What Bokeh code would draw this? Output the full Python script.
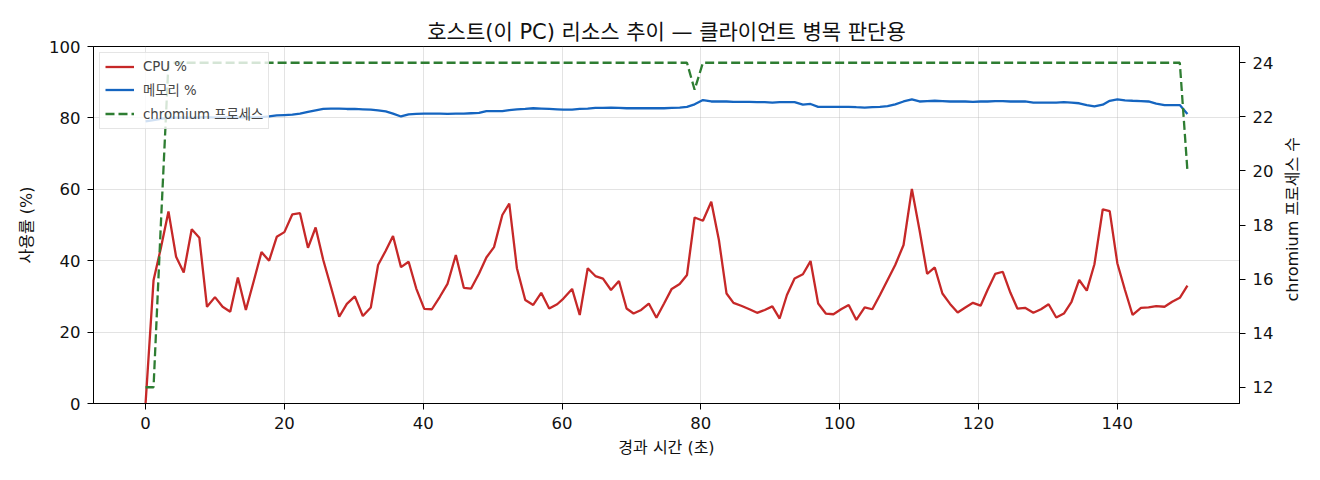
import math

from bokeh.plotting import figure
from bokeh.layouts import row
from bokeh.models import Range1d, LinearAxis, SingleIntervalTicker, Label
from bokeh.embed import file_html
from bokeh.resources import INLINE

FONT = "DejaVu Sans, Noto Sans CJK KR"
NUM_FONT = "DejaVu Sans"

# sample times (s)
times = [
    0.0, 1.15, 2.2, 3.3, 4.4, 5.5, 6.65, 7.75, 8.85, 10.0,
    11.1, 12.2, 13.3, 14.45, 15.6, 16.7, 17.8, 18.9, 20.0, 21.15,
    22.25, 23.4, 24.5, 25.6, 26.7, 27.9, 29.0, 30.15, 31.3, 32.45,
    33.5, 34.6, 35.65, 36.8, 37.9, 39.0, 40.15, 41.25, 42.4, 43.5,
    44.7, 45.85, 46.9, 48.05, 49.1, 50.2, 51.4, 52.4, 53.5, 54.7,
    55.85, 57.0, 58.15, 59.3, 60.2, 61.45, 62.55, 63.7, 64.8, 65.9,
    67.05, 68.2, 69.3, 70.3, 71.4, 72.5, 73.6, 74.7, 75.8, 76.95,
    78.0, 79.1, 80.3, 81.5, 82.6, 83.7, 84.7, 85.9, 87.0, 88.1,
    89.2, 90.3, 91.35, 92.4, 93.5, 94.7, 95.8, 96.9, 98.0, 99.1,
    100.2, 101.3, 102.4, 103.6, 104.7, 105.8, 106.9, 108.0, 109.2, 110.4,
    111.5, 112.6, 113.7, 114.8, 115.9, 117.0, 118.1, 119.2, 120.3, 121.3,
    122.4, 123.5, 124.6, 125.6, 126.7, 127.9, 129.0, 130.1, 131.2, 132.3,
    133.4, 134.5, 135.6, 136.7, 137.9, 138.9, 140.0, 141.1, 142.2, 143.4,
    144.5, 145.6, 146.8, 147.9, 149.0, 150.1,
]

cpu = [
    0.0, 34.5, 43.5, 53.8, 41.1, 36.7, 48.8, 46.4, 27.1, 29.8,
    27.1, 25.7, 35.3, 26.2, 34.4, 42.4, 40.0, 46.7, 48.0, 53.0,
    53.3, 43.6, 49.3, 40.2, 32.7, 24.3, 27.9, 30.0, 24.5, 26.9,
    38.8, 42.8, 46.9, 38.2, 39.7, 32.2, 26.5, 26.4, 29.9, 33.5,
    41.6, 32.4, 32.2, 36.4, 40.9, 43.8, 52.8, 56.0, 37.9, 29.0,
    27.6, 31.0, 26.6, 27.8, 29.4, 32.1, 24.8, 37.9, 35.7, 35.0,
    31.8, 34.3, 26.6, 25.2, 26.2, 28.0, 24.0, 28.0, 32.1, 33.5,
    36.0, 52.1, 51.2, 56.5, 45.8, 30.8, 28.2, 27.3, 26.4, 25.4,
    26.2, 27.2, 23.8, 30.4, 35.0, 36.2, 39.9, 28.0, 25.2, 25.0,
    26.4, 27.6, 23.4, 26.9, 26.4, 30.4, 34.6, 38.8, 44.4, 60.1,
    48.6, 36.3, 38.1, 30.8, 27.9, 25.5, 26.9, 28.2, 27.4, 31.8,
    36.3, 36.9, 31.0, 26.6, 26.8, 25.4, 26.4, 27.8, 24.1, 25.2,
    28.5, 34.6, 31.6, 39.0, 54.4, 53.9, 39.3, 31.8, 24.8, 26.8,
    26.9, 27.3, 27.1, 28.5, 29.6, 33.0,
]

mem = [
    79.0, 79.4, 79.7, 80.0, 80.1, 80.1, 80.0, 80.1, 80.2, 80.1,
    80.1, 80.2, 80.1, 80.2, 80.1, 80.2, 80.4, 80.7, 80.8, 80.9,
    81.2, 81.7, 82.1, 82.5, 82.6, 82.6, 82.5, 82.5, 82.4, 82.3,
    82.1, 81.8, 81.2, 80.4, 81.0, 81.1, 81.2, 81.2, 81.2, 81.1,
    81.2, 81.2, 81.3, 81.4, 81.9, 81.9, 81.9, 82.2, 82.4, 82.5,
    82.7, 82.6, 82.5, 82.4, 82.3, 82.3, 82.5, 82.6, 82.8, 82.8,
    82.9, 82.8, 82.7, 82.7, 82.7, 82.7, 82.7, 82.7, 82.8, 82.9,
    83.1, 83.8, 85.0, 84.6, 84.6, 84.6, 84.5, 84.5, 84.5, 84.4,
    84.4, 84.3, 84.4, 84.4, 84.4, 83.7, 83.9, 83.1, 83.1, 83.1,
    83.1, 83.1, 83.0, 82.9, 83.0, 83.1, 83.3, 83.8, 84.6, 85.2,
    84.6, 84.7, 84.8, 84.7, 84.6, 84.6, 84.6, 84.5, 84.6, 84.6,
    84.7, 84.7, 84.6, 84.6, 84.6, 84.3, 84.3, 84.3, 84.3, 84.4,
    84.3, 84.1, 83.6, 83.2, 83.7, 84.8, 85.2, 84.9, 84.8, 84.7,
    84.6, 84.0, 83.6, 83.6, 83.6, 81.1,
]

procs = [
    12, 12, 18, 24, 24, 24, 24, 24, 24, 24,
    24, 24, 24, 24, 24, 24, 24, 24, 24, 24,
    24, 24, 24, 24, 24, 24, 24, 24, 24, 24,
    24, 24, 24, 24, 24, 24, 24, 24, 24, 24,
    24, 24, 24, 24, 24, 24, 24, 24, 24, 24,
    24, 24, 24, 24, 24, 24, 24, 24, 24, 24,
    24, 24, 24, 24, 24, 24, 24, 24, 24, 24,
    24, 23, 24, 24, 24, 24, 24, 24, 24, 24,
    24, 24, 24, 24, 24, 24, 24, 24, 24, 24,
    24, 24, 24, 24, 24, 24, 24, 24, 24, 24,
    24, 24, 24, 24, 24, 24, 24, 24, 24, 24,
    24, 24, 24, 24, 24, 24, 24, 24, 24, 24,
    24, 24, 24, 24, 24, 24, 24, 24, 24, 24,
    24, 24, 24, 24, 24, 20,
]

p = figure(width=1279, height=464, output_backend="svg", toolbar_location=None,
           title="호스트(이 PC) 리소스 추이 — 클라이언트 병목 판단용",
           x_axis_label="경과 시간 (초)", y_axis_label="사용률 (%)",
           x_range=Range1d(-7.5, 157.6), y_range=Range1d(0, 100),
           min_border_left=93, min_border_right=40,
           min_border_top=46, min_border_bottom=61)
p.extra_y_ranges = {"proc": Range1d(11.4, 24.6)}

# lines
p.line(times, cpu, color="#c62828", line_width=2.3, legend_label="CPU %")
p.line(times, mem, color="#1565c0", line_width=2.3, legend_label="메모리 %")
p.line(times, procs, color="#2e7d32", line_width=2.3, line_dash="9 4",
       y_range_name="proc", legend_label="chromium 프로세스")

# right axis for process count
ax2 = LinearAxis(y_range_name="proc", ticker=SingleIntervalTicker(interval=2))
p.add_layout(ax2, "right")

p.xaxis.ticker = SingleIntervalTicker(interval=20)
p.yaxis[0].ticker = SingleIntervalTicker(interval=20)

for ax in p.axis:
    ax.axis_label_text_font = FONT
    ax.axis_label_text_font_size = "16px"
    ax.axis_label_text_font_style = "normal"
    ax.axis_label_text_color = "#111111"
    ax.major_label_text_font = NUM_FONT
    ax.major_label_text_font_size = "16.5px"
    ax.major_label_text_color = "#111111"
    ax.major_label_standoff = 7
    ax.axis_line_color = "black"
    ax.major_tick_line_color = "black"
    ax.major_tick_in = 0
    ax.major_tick_out = 6
    ax.minor_tick_in = 0
    ax.minor_tick_out = 0
    ax.axis_label_standoff = 10
p.xaxis.axis_label_standoff = 6

p.title.text_font = FONT
p.title.text_font_size = "21px"
p.title.text_font_style = "normal"
p.title.text_color = "#111111"
p.title.align = "center"
p.title.standoff = 6

p.outline_line_color = "black"
p.outline_line_alpha = 1
p.grid.grid_line_color = "#b0b0b0"
p.grid.grid_line_alpha = 0.35
p.background_fill_color = "white"
p.border_fill_color = "white"

p.legend.location = "top_left"
p.legend.margin = 6
p.legend.padding = 5
p.legend.spacing = 5
p.legend.glyph_width = 29
p.legend.glyph_height = 17
p.legend.label_height = 17
p.legend.label_standoff = 9
p.legend.label_text_font = FONT
p.legend.label_text_font_size = "13.3px"
p.legend.border_line_color = "#cccccc"
p.legend.background_fill_alpha = 0.8

# narrow strip holding the right axis title, read bottom-to-top
side = figure(width=25, height=464, output_backend="svg", toolbar_location=None,
              x_range=Range1d(0, 25), y_range=Range1d(0, 464),
              x_axis_location=None, y_axis_location=None, min_border=0)
side.outline_line_color = None
side.grid.visible = False
side.border_fill_color = "white"
side.add_layout(Label(x=13, y=239.5, text="chromium 프로세스 수", angle=math.pi / 2,
                      text_align="center", text_baseline="middle",
                      text_font=FONT, text_font_size="16px", text_color="#111111"))

layout = row(p, side, spacing=0)

open("out.html", "w").write(file_html(layout, INLINE))
